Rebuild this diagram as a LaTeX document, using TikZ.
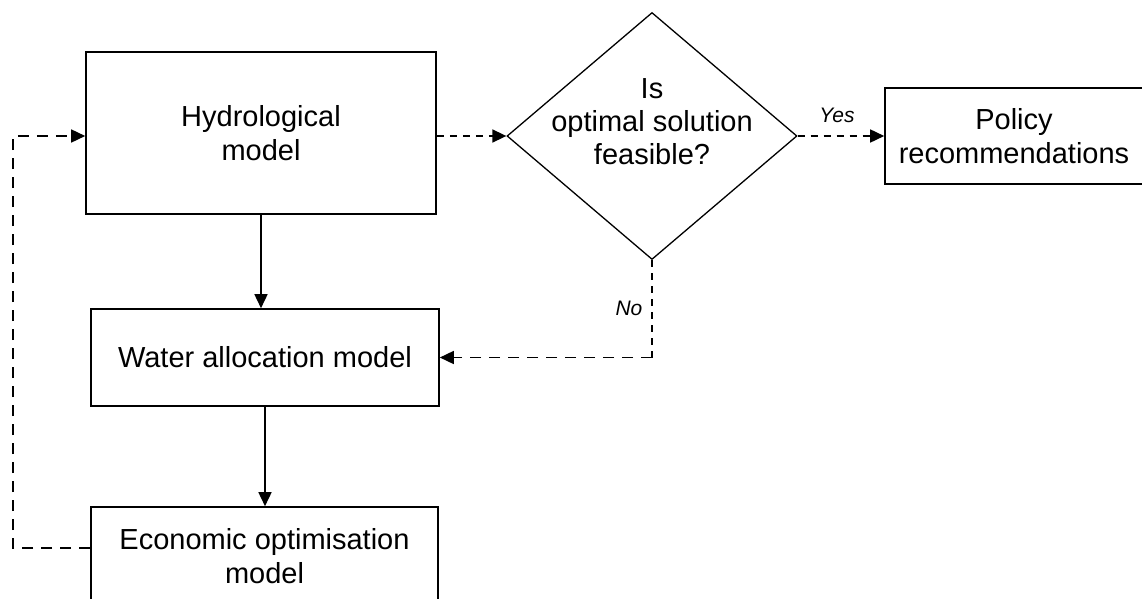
\documentclass[tikz,border=0pt]{standalone}
\usepackage{fontspec}
\setmainfont{Liberation Sans}
\usetikzlibrary{shapes.geometric,arrows.meta}

\begin{document}
\begin{tikzpicture}[x=1pt,y=-1pt,
  box/.style={draw, line width=1.6pt, rectangle, inner sep=0pt, align=center,
    font=\fontsize{29}{34}\selectfont},
  decision/.style={draw, line width=1.3pt, diamond, inner sep=0pt},
  qtext/.style={align=center, inner sep=0pt, font=\fontsize{29}{33}\selectfont},
  lbl/.style={inner sep=0pt, font=\fontsize{21}{24}\selectfont\itshape},
  tip/.style={-{Triangle[length=14pt,width=13pt]}},
  flow/.style={tip, line width=1.6pt},
  shortdash/.style={line width=1.6pt, dash pattern=on 7pt off 6pt},
  longdash/.style={line width=1.6pt, dash pattern=on 11pt off 8pt}]

\clip (0,0) rectangle (1142,599);

% process boxes
\node[box, minimum width=350pt, minimum height=162pt] (hyd) at (261,133)
  {Hydrological\\model};
\node[box, minimum width=348pt, minimum height=97pt] (wat) at (265,357.5)
  {Water allocation model};
\node[box, minimum width=347pt, minimum height=98pt] (eco) at (264.5,556)
  {Economic optimisation\\model};
\node[box, minimum width=258pt, minimum height=96pt] (pol) at (1014,136)
  {Policy\\recommendations};

% decision
\node[decision, minimum width=290pt, minimum height=247pt] (dia) at (652,136) {};
\node[qtext] (q) at (652,122) {Is\\optimal solution\\feasible?};

% labels on the decision branches
\node[lbl] (yes) at (837,115) {Yes};
\node[lbl] (no) at (629,308) {No};

% main flow
\draw[flow] (hyd.south) -- (hyd.south |- wat.north);
\draw[flow] (wat.south) -- (wat.south |- eco.north);

% feasibility check
\draw[shortdash, tip] (hyd.east |- dia.west) -- (dia.west);
\draw[shortdash, tip] (dia.east) -- (dia.east -| pol.west);
\draw[shortdash] (dia.south) -- (dia.south |- wat.east);
\draw[longdash, tip] (dia.south |- wat.east) -- (wat.east);

% feedback loop
\coordinate (lp) at (13,548);
\draw[longdash, tip] (lp -| eco.west) -- (lp) |- (hyd.west |- dia.west);

\end{tikzpicture}
\end{document}
